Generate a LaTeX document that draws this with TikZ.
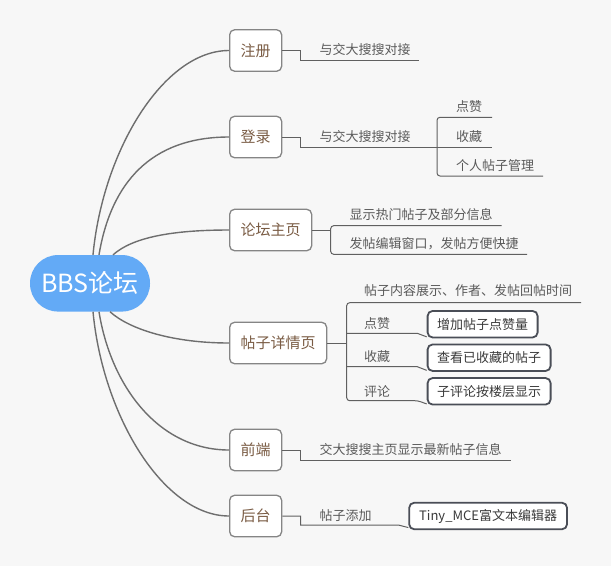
\documentclass[tikz,border=0pt]{standalone}
\usepackage{fontspec}
\setmainfont{Noto Sans CJK SC}
\definecolor{bgc}{HTML}{F7F7F7}
\definecolor{rootblue}{HTML}{63AAF6}
\definecolor{topicborder}{HTML}{858585}
\definecolor{topictext}{HTML}{7A5C44}
\definecolor{curvec}{HTML}{6E6E6E}
\definecolor{subline}{HTML}{606060}
\definecolor{lbltext}{HTML}{5A5A5A}
\definecolor{boxborder}{HTML}{4A4E57}
\definecolor{boxtext}{HTML}{3A3A3A}
\begin{document}
\begin{tikzpicture}[x=1pt,y=-1pt,
  rootnode/.style={fill=rootblue, rounded corners=28pt, minimum width=120pt, minimum height=56.5pt, inner sep=0pt, text=white, font=\fontsize{25}{28}\selectfont},
  topic/.style={draw=topicborder, line width=1.3pt, rounded corners=5pt, fill=white, text=topictext, font=\fontsize{15}{18}\selectfont, minimum height=41.5pt, inner xsep=11pt, inner ysep=0pt, anchor=west},
  lbl/.style={text=lbltext, font=\fontsize{13}{15}\selectfont, inner sep=0pt, anchor=west},
  subbox/.style={draw=boxborder, line width=1.8pt, rounded corners=5pt, fill=white, text=boxtext, font=\fontsize{13}{15}\selectfont, minimum height=26.5pt, inner xsep=9.5pt, inner ysep=0pt, anchor=west},
  curve/.style={draw=curvec, line width=1.4pt},
  sub/.style={draw=subline, line width=1pt}
]
\useasboundingbox (0,0) rectangle (611,566);
\fill[bgc] (0,0) rectangle (611,566);

% root
\node[rootnode] (root) at (90,283.3) {BBS论坛};

% top-level topics
\node[topic] (zhuce) at (229,50.5) {注册};
\node[topic] (denglu) at (229,137) {登录};
\node[topic] (zhuye) at (229,230) {论坛主页};
\node[topic] (xiangqing) at (229,343) {帖子详情页};
\node[topic] (qianduan) at (229,450) {前端};
\node[topic] (houtai) at (229,516) {后台};

% root curves
\draw[curve] ([xshift=3pt]root.north) .. controls +(10,-105) and +(-65,0) .. (zhuce.west);
\draw[curve] ([xshift=9pt]root.north) .. controls +(12,-72) and +(-78,0) .. (denglu.west);
\draw[curve] ([xshift=23pt]root.north) .. controls +(20,-18) and +(-55,0) .. (zhuye.west);
\draw[curve] ([xshift=20pt]root.south) .. controls +(20,18) and +(-55,0) .. (xiangqing.west);
\draw[curve] ([xshift=9pt]root.south) .. controls +(12,75) and +(-70,0) .. (qianduan.west);
\draw[curve] ([xshift=3pt]root.south) .. controls +(10,105) and +(-65,0) .. (houtai.west);

% 注册
\node[lbl] (l1) at (319.5,49.5) {与交大搜搜对接};
\coordinate (u1) at (419,60.3);
\draw[sub] (zhuce.east) -| (300.7,60.3) -- (u1);

% 登录
\node[lbl] (l2) at (319.5,136.5) {与交大搜搜对接};
\coordinate (u2) at (492,147);
\draw[sub] (denglu.east) -| (300.7,147) -- (u2);
\node[lbl] (l2a) at (456,106.5) {点赞};
\node[lbl] (l2b) at (456,136.5) {收藏};
\node[lbl] (l2c) at (456,165.5) {个人帖子管理};
\coordinate (u3) at (492,117.3);
\coordinate (u4) at (543,176);
\draw[sub, rounded corners=3pt] (u3) -- (437,117.3) -- (437,176) -- (u4);

% 论坛主页
\node[lbl] (l3a) at (349.3,214.5) {显示热门帖子及部分信息};
\node[lbl] (l3b) at (349.3,243.7) {发帖编辑窗口，发帖方便快捷};
\coordinate (u5) at (501.7,225.7);
\coordinate (u6) at (527,254.3);
\draw[sub] (zhuye.east) -- (330.7,230);
\draw[sub, rounded corners=3pt] (u5) -- (330.7,225.7) -- (330.7,254.3) -- (u6);

% 帖子详情页
\node[lbl] (l4a) at (364,291) {帖子内容展示、作者、发帖回帖时间};
\node[lbl] (l4b) at (364,324) {点赞};
\node[lbl] (l4c) at (364,357) {收藏};
\node[lbl] (l4d) at (364,391.5) {评论};
\node[subbox] (b1) at (426.7,324.2) {增加帖子点赞量};
\node[subbox] (b2) at (426.7,357.7) {查看已收藏的帖子};
\node[subbox] (b3) at (426.7,391.3) {子评论按楼层显示};
\coordinate (u7) at (581,302.7);
\draw[sub] (xiangqing.east) -- (346.7,343);
\draw[sub, rounded corners=3pt] (u7) -- (346.7,302.7) -- (346.7,400.7) -- (417.8,400.7) -- ([yshift=1.5pt]b3.south west);
\draw[sub] (346.7,333.3) -- (417.3,333.3) -- ([yshift=1.5pt]b1.south west);
\draw[sub] (346.7,366.7) -- (417.3,366.7) -- ([yshift=1.5pt]b2.south west);

% 前端
\node[lbl] (l5) at (319.5,450) {交大搜搜主页显示最新帖子信息};
\coordinate (u8) at (510.5,460);
\draw[sub] (qianduan.east) -| (300.7,460) -- (u8);

% 后台
\node[lbl] (l6) at (319.3,515.5) {帖子添加};
\node[subbox, inner xsep=10pt] (b4) at (408.3,516) {Tiny\_MCE富文本编辑器};
\draw[sub] (houtai.east) -| (300.7,525) -- (398.3,525) -- ([yshift=2.6pt]b4.south west);
\end{tikzpicture}
\end{document}
